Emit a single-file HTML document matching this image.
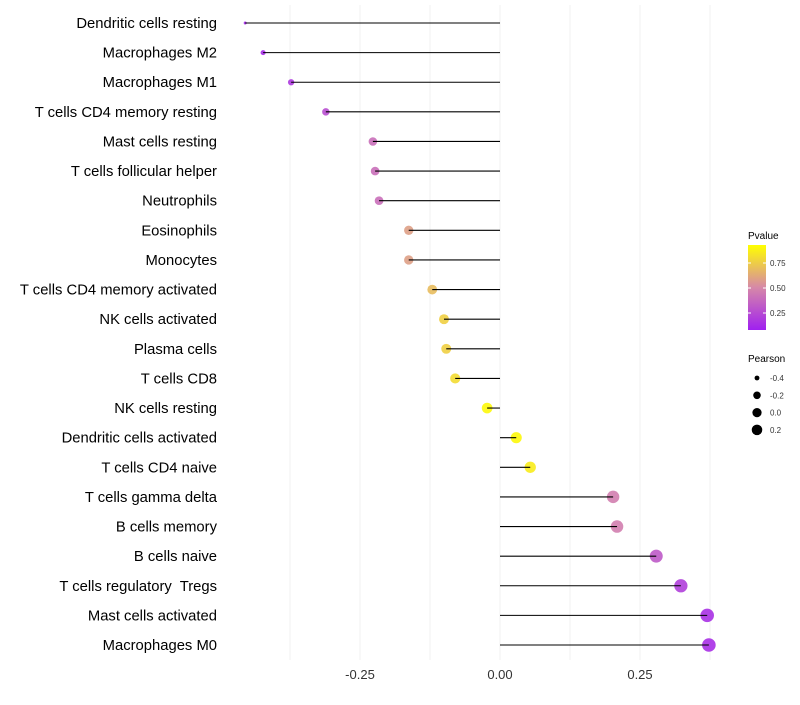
<!DOCTYPE html>
<html><head><meta charset="utf-8"><style>
body{margin:0;background:#fff;font-family:"Liberation Sans",sans-serif}
text{white-space:pre}
</style></head><body>
<svg id="chart" width="800" height="700" xmlns="http://www.w3.org/2000/svg">
<defs><linearGradient id="pg" x1="0" y1="1" x2="0" y2="0">
<stop offset="0" stop-color="#a020f0"/><stop offset="0.5" stop-color="#d688a8"/><stop offset="1" stop-color="#ffff00"/></linearGradient></defs>
<g id="grid"></g><g id="marks"></g><g id="labels"></g><g id="xaxis"></g>
<g id="legend">
<text x="748" y="239" font-size="10" fill="#000">Pvalue</text>
<rect x="748" y="245" width="18" height="85" fill="url(#pg)"/>
<line x1="748" y1="263" x2="751" y2="263" stroke="#fff"/><line x1="763" y1="263" x2="766" y2="263" stroke="#fff"/>
<line x1="748" y1="288" x2="751" y2="288" stroke="#fff"/><line x1="763" y1="288" x2="766" y2="288" stroke="#fff"/>
<line x1="748" y1="313" x2="751" y2="313" stroke="#fff"/><line x1="763" y1="313" x2="766" y2="313" stroke="#fff"/>
<text x="770" y="266" font-size="8" fill="#333">0.75</text>
<text x="770" y="291" font-size="8" fill="#333">0.50</text>
<text x="770" y="316" font-size="8" fill="#333">0.25</text>
<text x="748" y="362" font-size="10" fill="#000">Pearson</text>
<g id="sizeleg"></g>
</g>
</svg>
<script>
const categories=["Dendritic cells resting","Macrophages M2","Macrophages M1","T cells CD4 memory resting","Mast cells resting","T cells follicular helper","Neutrophils","Eosinophils","Monocytes","T cells CD4 memory activated","NK cells activated","Plasma cells","T cells CD8","NK cells resting","Dendritic cells activated","T cells CD4 naive","T cells gamma delta","B cells memory","B cells naive","T cells regulatory  Tregs","Mast cells activated","Macrophages M0"];
const pearson=[-0.455,-0.423,-0.373,-0.311,-0.227,-0.223,-0.216,-0.163,-0.163,-0.121,-0.100,-0.096,-0.080,-0.023,0.029,0.054,0.202,0.209,0.279,0.323,0.370,0.373];
const pvalue=[0.04,0.06,0.12,0.22,0.38,0.38,0.38,0.60,0.60,0.72,0.80,0.80,0.85,0.97,0.97,0.92,0.45,0.45,0.28,0.15,0.08,0.07];
const xTicks=[-0.25,0,0.25];
const xTickLabels=["-0.25","0.00","0.25"];
const sizeLegendValues=[-0.4,-0.2,0.0,0.2];
const sizeLegendLabels=["-0.4","-0.2","0.0","0.2"];
const NS="http://www.w3.org/2000/svg";
const X=v=>500+v*560;
const Y=i=>23+i*(622/21);
const R=v=>1.5+5.3*Math.sqrt(Math.max(0,(v+0.455)/0.828));
function hex(c){return [parseInt(c.slice(1,3),16),parseInt(c.slice(3,5),16),parseInt(c.slice(5,7),16)]}
function col(p){const a=hex("#a020f0"),m=hex("#d688a8"),b=hex("#ffff00");let s,e,t;
 if(p<0.5){s=a;e=m;t=p/0.5}else{s=m;e=b;t=(p-0.5)/0.5}
 return "rgb("+s.map((x,k)=>Math.round(x+(e[k]-x)*t)).join(",")+")";}
function mk(tag,attrs,parent){const el=document.createElementNS(NS,tag);for(const k in attrs)el.setAttribute(k,attrs[k]);parent.appendChild(el);return el;}
const grid=document.getElementById('grid'),marks=document.getElementById('marks'),labels=document.getElementById('labels'),xa=document.getElementById('xaxis');
for(let v=-0.375;v<=0.376;v+=0.125){const g=mk('line',{x1:X(v),x2:X(v),y1:5,y2:660,stroke:'#f2f2f2','stroke-width':1},grid);

}
categories.forEach((c,i)=>{
 const v=pearson[i],y=Y(i);
 const pt=mk('circle',{cx:X(v),cy:y,r:R(v),fill:col(pvalue[i]),'fill-opacity':0.9},marks);
 
 
 const ln=mk('line',{x1:X(0),x2:X(v),y1:y,y2:y,stroke:'#000','stroke-width':1.1},marks);
 
 
 const t=mk('text',{x:217,y:y+5,'text-anchor':'end','font-size':14.8,fill:'#000'},labels);
 t.textContent=c;
 
 
});
xTicks.forEach((v,i)=>{const t=mk('text',{x:X(v),y:679,'text-anchor':'middle','font-size':13,fill:'#333'},xa);t.textContent=xTickLabels[i];

});
const sl=document.getElementById('sizeleg');
sizeLegendValues.forEach((v,i)=>{const y=378+i*17.3;
 const c=mk('circle',{cx:757,cy:y,r:R(v)*0.85,fill:'#000'},sl);
 
 
 const t=mk('text',{x:770,y:y+3,'font-size':8,fill:'#333'},sl);t.textContent=sizeLegendLabels[i];
 
 });
</script>
</body></html>
